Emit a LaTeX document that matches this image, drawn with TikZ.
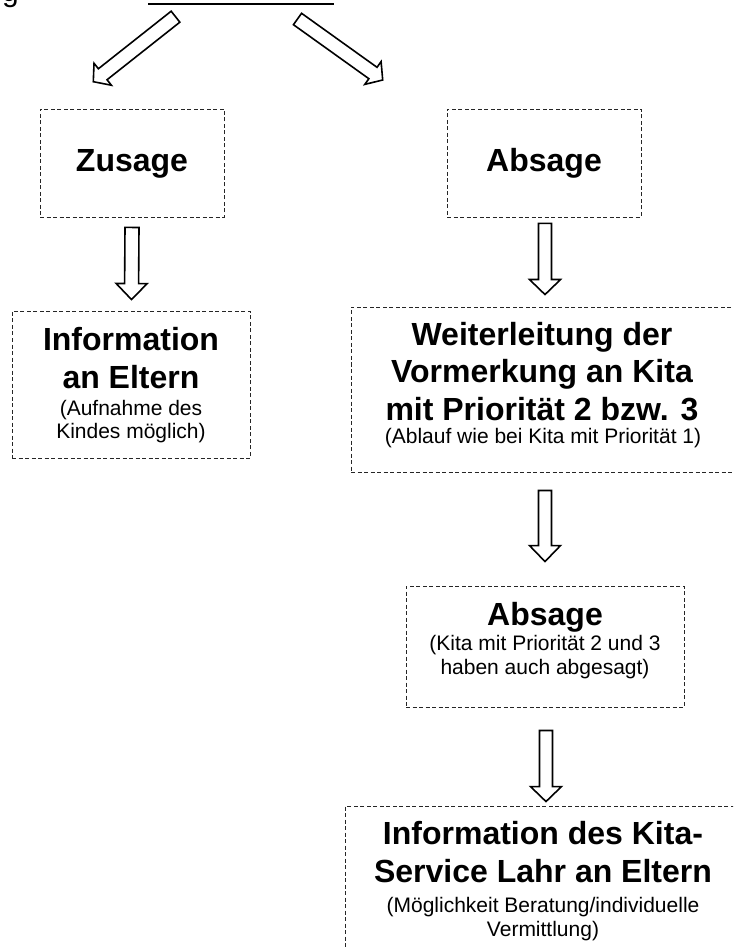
\documentclass[tikz,border=0pt]{standalone}
\usepackage{fontspec}
\setmainfont{Liberation Sans}
\usetikzlibrary{calc}
\newcommand\hdfont{\fontsize{32}{37.5}\selectfont\bfseries}
\newcommand\smfont{\fontsize{21}{23.5}\selectfont}
\newcommand\blockarrow[5]{%
  \coordinate (ba-h) at ($(#2)!#5!(#1)$);
  \draw[blockarr] ($(#1)!#3!90:(#2)$) -- ($(ba-h)!#3!-90:(#1)$) -- ($(ba-h)!#4!-90:(#1)$)
    -- (#2) -- ($(ba-h)!#4!90:(#1)$) -- ($(ba-h)!#3!90:(#1)$) -- ($(#1)!#3!-90:(#2)$) -- cycle;}
\tikzset{
  box/.style={draw=black!85, dash pattern=on 4pt off 2.5pt, line width=0.9pt, inner sep=0pt, rectangle},
  hd/.style={font=\hdfont, inner sep=0pt, align=center, anchor=base},
  sm/.style={font=\smfont, inner sep=0pt, align=center, anchor=base},
  blockarr/.style={draw=black, line width=1.6pt, fill=white, line join=miter},
}
\begin{document}
\begin{tikzpicture}[x=1pt,y=-1pt]
\useasboundingbox (0,0) rectangle (733,949);
\clip (0,0) rectangle (733,949);
% cut-off title remains
\node[font=\fontsize{30}{30}\selectfont, inner sep=0pt, anchor=base west] (titleg) at (2,1.5) {g};
\draw[line width=2pt] (148,4) -- (334,4);
\coordinate (tl1) at (175.5,16.7);
\coordinate (tl2) at (93.3,81.7);
\coordinate (tr1) at (297.5,19);
\coordinate (tr2) at (382.7,80);
\blockarrow{tl1}{tl2}{7pt}{14pt}{12pt}
\blockarrow{tr1}{tr2}{7pt}{14pt}{12pt}
% boxes
\node[box, minimum width=184pt, minimum height=108pt] (zus) at (132,163) {};
\node[box, minimum width=194pt, minimum height=108pt] (abs) at (544,163) {};
\node[box, minimum width=238pt, minimum height=147pt] (info) at (131,384.5) {};
\node[box, minimum width=387pt, minimum height=165pt] (weit) at (544.5,389.5) {};
\node[box, minimum width=278pt, minimum height=121pt] (abs2) at (545,646.5) {};
\node[box, minimum width=400pt, minimum height=194pt] (last) at (545,903) {};
% texts (multi-line nodes: base = last line)
\node[hd] (zust) at (132,172) {Zusage};
\node[hd] (abst) at (544,172) {Absage};
\node[hd] (infot) at (131,388) {Information\\an Eltern};
\node[sm] (infos) at (131,438.5) {(Aufnahme des\\Kindes möglich)};
\node[hd] (weitt) at (542,420) {Weiterleitung der\\Vormerkung an Kita\\mit Priorität 2 bzw. 3};
\node[sm] (weits) at (543,443) {(Ablauf wie bei Kita mit Priorität 1)};
\node[hd] (abs2t) at (545,625) {Absage};
\node[sm] (abs2s) at (545,674) {(Kita mit Priorität 2 und 3\\haben auch abgesagt)};
\node[hd] (lastt) at (543,882) {Information des Kita-\\Service Lahr an Eltern};
\node[sm] (lasts) at (543,936) {(Möglichkeit Beratung/individuelle\\Vermittlung)};
% vertical block arrows
\coordinate (a1s) at ($(zus.south)+(0,10)$);
\coordinate (a1e) at ($(info.north)+(0.5,-11)$);
\coordinate (a2s) at ($(abs.south)+(1,6)$);
\coordinate (a2e) at ($(weit.north)+(0.5,-12)$);
\coordinate (a3s) at ($(weit.south)+(0.5,18)$);
\coordinate (a3e) at ($(abs2.north)+(0,-24)$);
\coordinate (a4s) at ($(abs2.south)+(1,23)$);
\coordinate (a4e) at ($(last.north)+(1,-4)$);
\blockarrow{a1s}{a1e}{7pt}{15.5pt}{16pt}
\blockarrow{a2s}{a2e}{6.5pt}{15.5pt}{15pt}
\blockarrow{a3s}{a3e}{6.5pt}{15.5pt}{16pt}
\blockarrow{a4s}{a4e}{6.5pt}{15.5pt}{15pt}
\end{tikzpicture}
\end{document}
